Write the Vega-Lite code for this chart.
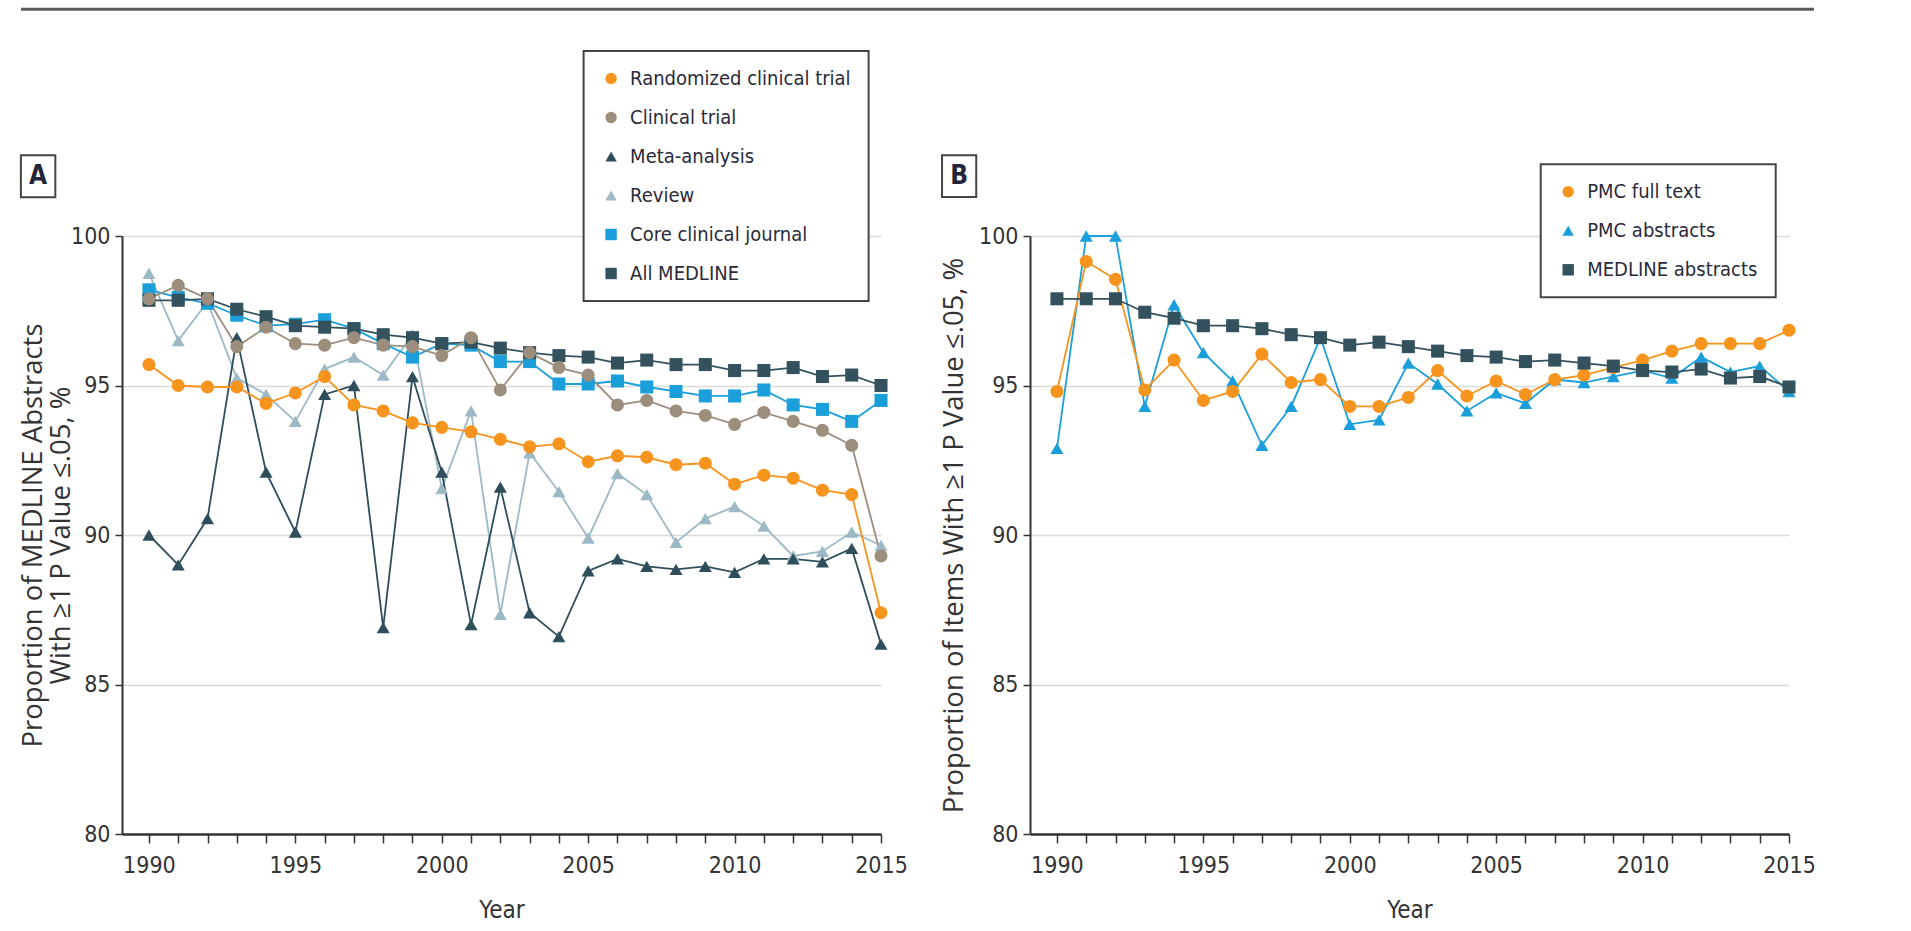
{
  "$schema": "https://vega.github.io/schema/vega-lite/v6.json",
  "background": "white",
  "padding": {"left": 16, "top": 7, "right": 5, "bottom": 5},
  "spacing": 149,
  "bounds": "flush",
  "datasets": {
    "a": [
      {"year": 1990, "series": "Review", "value": 98.75},
      {"year": 1991, "series": "Review", "value": 96.5},
      {"year": 1992, "series": "Review", "value": 97.8},
      {"year": 1993, "series": "Review", "value": 95.25},
      {"year": 1994, "series": "Review", "value": 94.7},
      {"year": 1995, "series": "Review", "value": 93.8},
      {"year": 1996, "series": "Review", "value": 95.55},
      {"year": 1997, "series": "Review", "value": 95.95},
      {"year": 1998, "series": "Review", "value": 95.35},
      {"year": 1999, "series": "Review", "value": 96.7},
      {"year": 2000, "series": "Review", "value": 91.55},
      {"year": 2001, "series": "Review", "value": 94.15},
      {"year": 2002, "series": "Review", "value": 87.35},
      {"year": 2003, "series": "Review", "value": 92.75},
      {"year": 2004, "series": "Review", "value": 91.45},
      {"year": 2005, "series": "Review", "value": 89.9},
      {"year": 2006, "series": "Review", "value": 92.05},
      {"year": 2007, "series": "Review", "value": 91.35},
      {"year": 2008, "series": "Review", "value": 89.75},
      {"year": 2009, "series": "Review", "value": 90.55},
      {"year": 2010, "series": "Review", "value": 90.95},
      {"year": 2011, "series": "Review", "value": 90.3},
      {"year": 2012, "series": "Review", "value": 89.3},
      {"year": 2013, "series": "Review", "value": 89.45},
      {"year": 2014, "series": "Review", "value": 90.1},
      {"year": 2015, "series": "Review", "value": 89.65},
      {"year": 1990, "series": "Meta-analysis", "value": 90.0},
      {"year": 1991, "series": "Meta-analysis", "value": 89.0},
      {"year": 1992, "series": "Meta-analysis", "value": 90.55},
      {"year": 1993, "series": "Meta-analysis", "value": 96.6},
      {"year": 1994, "series": "Meta-analysis", "value": 92.1},
      {"year": 1995, "series": "Meta-analysis", "value": 90.1},
      {"year": 1996, "series": "Meta-analysis", "value": 94.7},
      {"year": 1997, "series": "Meta-analysis", "value": 95.0},
      {"year": 1998, "series": "Meta-analysis", "value": 86.9},
      {"year": 1999, "series": "Meta-analysis", "value": 95.3},
      {"year": 2000, "series": "Meta-analysis", "value": 92.1},
      {"year": 2001, "series": "Meta-analysis", "value": 87.0},
      {"year": 2002, "series": "Meta-analysis", "value": 91.6},
      {"year": 2003, "series": "Meta-analysis", "value": 87.4},
      {"year": 2004, "series": "Meta-analysis", "value": 86.6},
      {"year": 2005, "series": "Meta-analysis", "value": 88.8},
      {"year": 2006, "series": "Meta-analysis", "value": 89.2},
      {"year": 2007, "series": "Meta-analysis", "value": 88.95},
      {"year": 2008, "series": "Meta-analysis", "value": 88.85},
      {"year": 2009, "series": "Meta-analysis", "value": 88.95},
      {"year": 2010, "series": "Meta-analysis", "value": 88.75},
      {"year": 2011, "series": "Meta-analysis", "value": 89.2},
      {"year": 2012, "series": "Meta-analysis", "value": 89.2},
      {"year": 2013, "series": "Meta-analysis", "value": 89.1},
      {"year": 2014, "series": "Meta-analysis", "value": 89.55},
      {"year": 2015, "series": "Meta-analysis", "value": 86.35},
      {"year": 1990, "series": "Randomized clinical trial", "value": 95.7},
      {"year": 1991, "series": "Randomized clinical trial", "value": 95.0},
      {"year": 1992, "series": "Randomized clinical trial", "value": 94.95},
      {"year": 1993, "series": "Randomized clinical trial", "value": 94.95},
      {"year": 1994, "series": "Randomized clinical trial", "value": 94.4},
      {"year": 1995, "series": "Randomized clinical trial", "value": 94.75},
      {"year": 1996, "series": "Randomized clinical trial", "value": 95.3},
      {"year": 1997, "series": "Randomized clinical trial", "value": 94.35},
      {"year": 1998, "series": "Randomized clinical trial", "value": 94.15},
      {"year": 1999, "series": "Randomized clinical trial", "value": 93.75},
      {"year": 2000, "series": "Randomized clinical trial", "value": 93.6},
      {"year": 2001, "series": "Randomized clinical trial", "value": 93.45},
      {"year": 2002, "series": "Randomized clinical trial", "value": 93.2},
      {"year": 2003, "series": "Randomized clinical trial", "value": 92.95},
      {"year": 2004, "series": "Randomized clinical trial", "value": 93.05},
      {"year": 2005, "series": "Randomized clinical trial", "value": 92.45},
      {"year": 2006, "series": "Randomized clinical trial", "value": 92.65},
      {"year": 2007, "series": "Randomized clinical trial", "value": 92.6},
      {"year": 2008, "series": "Randomized clinical trial", "value": 92.35},
      {"year": 2009, "series": "Randomized clinical trial", "value": 92.4},
      {"year": 2010, "series": "Randomized clinical trial", "value": 91.7},
      {"year": 2011, "series": "Randomized clinical trial", "value": 92.0},
      {"year": 2012, "series": "Randomized clinical trial", "value": 91.9},
      {"year": 2013, "series": "Randomized clinical trial", "value": 91.5},
      {"year": 2014, "series": "Randomized clinical trial", "value": 91.35},
      {"year": 2015, "series": "Randomized clinical trial", "value": 87.4},
      {"year": 1990, "series": "Core clinical journal", "value": 98.2},
      {"year": 1991, "series": "Core clinical journal", "value": 97.95},
      {"year": 1992, "series": "Core clinical journal", "value": 97.75},
      {"year": 1993, "series": "Core clinical journal", "value": 97.35},
      {"year": 1994, "series": "Core clinical journal", "value": 97.0},
      {"year": 1995, "series": "Core clinical journal", "value": 97.05},
      {"year": 1996, "series": "Core clinical journal", "value": 97.2},
      {"year": 1997, "series": "Core clinical journal", "value": 96.9},
      {"year": 1998, "series": "Core clinical journal", "value": 96.4},
      {"year": 1999, "series": "Core clinical journal", "value": 95.95},
      {"year": 2000, "series": "Core clinical journal", "value": 96.4},
      {"year": 2001, "series": "Core clinical journal", "value": 96.35},
      {"year": 2002, "series": "Core clinical journal", "value": 95.8},
      {"year": 2003, "series": "Core clinical journal", "value": 95.8},
      {"year": 2004, "series": "Core clinical journal", "value": 95.05},
      {"year": 2005, "series": "Core clinical journal", "value": 95.05},
      {"year": 2006, "series": "Core clinical journal", "value": 95.15},
      {"year": 2007, "series": "Core clinical journal", "value": 94.95},
      {"year": 2008, "series": "Core clinical journal", "value": 94.8},
      {"year": 2009, "series": "Core clinical journal", "value": 94.65},
      {"year": 2010, "series": "Core clinical journal", "value": 94.65},
      {"year": 2011, "series": "Core clinical journal", "value": 94.85},
      {"year": 2012, "series": "Core clinical journal", "value": 94.35},
      {"year": 2013, "series": "Core clinical journal", "value": 94.2},
      {"year": 2014, "series": "Core clinical journal", "value": 93.8},
      {"year": 2015, "series": "Core clinical journal", "value": 94.5},
      {"year": 1990, "series": "All MEDLINE", "value": 97.85},
      {"year": 1991, "series": "All MEDLINE", "value": 97.85},
      {"year": 1992, "series": "All MEDLINE", "value": 97.9},
      {"year": 1993, "series": "All MEDLINE", "value": 97.55},
      {"year": 1994, "series": "All MEDLINE", "value": 97.3},
      {"year": 1995, "series": "All MEDLINE", "value": 97.0},
      {"year": 1996, "series": "All MEDLINE", "value": 96.95},
      {"year": 1997, "series": "All MEDLINE", "value": 96.9},
      {"year": 1998, "series": "All MEDLINE", "value": 96.7},
      {"year": 1999, "series": "All MEDLINE", "value": 96.6},
      {"year": 2000, "series": "All MEDLINE", "value": 96.4},
      {"year": 2001, "series": "All MEDLINE", "value": 96.45},
      {"year": 2002, "series": "All MEDLINE", "value": 96.25},
      {"year": 2003, "series": "All MEDLINE", "value": 96.1},
      {"year": 2004, "series": "All MEDLINE", "value": 96.0},
      {"year": 2005, "series": "All MEDLINE", "value": 95.95},
      {"year": 2006, "series": "All MEDLINE", "value": 95.75},
      {"year": 2007, "series": "All MEDLINE", "value": 95.85},
      {"year": 2008, "series": "All MEDLINE", "value": 95.7},
      {"year": 2009, "series": "All MEDLINE", "value": 95.7},
      {"year": 2010, "series": "All MEDLINE", "value": 95.5},
      {"year": 2011, "series": "All MEDLINE", "value": 95.5},
      {"year": 2012, "series": "All MEDLINE", "value": 95.6},
      {"year": 2013, "series": "All MEDLINE", "value": 95.3},
      {"year": 2014, "series": "All MEDLINE", "value": 95.35},
      {"year": 2015, "series": "All MEDLINE", "value": 95.0},
      {"year": 1990, "series": "Clinical trial", "value": 97.9},
      {"year": 1991, "series": "Clinical trial", "value": 98.35},
      {"year": 1992, "series": "Clinical trial", "value": 97.9},
      {"year": 1993, "series": "Clinical trial", "value": 96.3},
      {"year": 1994, "series": "Clinical trial", "value": 96.95},
      {"year": 1995, "series": "Clinical trial", "value": 96.4},
      {"year": 1996, "series": "Clinical trial", "value": 96.35},
      {"year": 1997, "series": "Clinical trial", "value": 96.6},
      {"year": 1998, "series": "Clinical trial", "value": 96.35},
      {"year": 1999, "series": "Clinical trial", "value": 96.3},
      {"year": 2000, "series": "Clinical trial", "value": 96.0},
      {"year": 2001, "series": "Clinical trial", "value": 96.6},
      {"year": 2002, "series": "Clinical trial", "value": 94.85},
      {"year": 2003, "series": "Clinical trial", "value": 96.1},
      {"year": 2004, "series": "Clinical trial", "value": 95.6},
      {"year": 2005, "series": "Clinical trial", "value": 95.35},
      {"year": 2006, "series": "Clinical trial", "value": 94.35},
      {"year": 2007, "series": "Clinical trial", "value": 94.5},
      {"year": 2008, "series": "Clinical trial", "value": 94.15},
      {"year": 2009, "series": "Clinical trial", "value": 94.0},
      {"year": 2010, "series": "Clinical trial", "value": 93.7},
      {"year": 2011, "series": "Clinical trial", "value": 94.1},
      {"year": 2012, "series": "Clinical trial", "value": 93.8},
      {"year": 2013, "series": "Clinical trial", "value": 93.5},
      {"year": 2014, "series": "Clinical trial", "value": 93.0},
      {"year": 2015, "series": "Clinical trial", "value": 89.3}
    ],
    "b": [
      {"year": 1990, "source": "PMC abstracts", "value": 92.9},
      {"year": 1991, "source": "PMC abstracts", "value": 100.0},
      {"year": 1992, "source": "PMC abstracts", "value": 100.0},
      {"year": 1993, "source": "PMC abstracts", "value": 94.3},
      {"year": 1994, "source": "PMC abstracts", "value": 97.7},
      {"year": 1995, "source": "PMC abstracts", "value": 96.1},
      {"year": 1996, "source": "PMC abstracts", "value": 95.15},
      {"year": 1997, "source": "PMC abstracts", "value": 93.0},
      {"year": 1998, "source": "PMC abstracts", "value": 94.3},
      {"year": 1999, "source": "PMC abstracts", "value": 96.6},
      {"year": 2000, "source": "PMC abstracts", "value": 93.7},
      {"year": 2001, "source": "PMC abstracts", "value": 93.85},
      {"year": 2002, "source": "PMC abstracts", "value": 95.75},
      {"year": 2003, "source": "PMC abstracts", "value": 95.05},
      {"year": 2004, "source": "PMC abstracts", "value": 94.15},
      {"year": 2005, "source": "PMC abstracts", "value": 94.75},
      {"year": 2006, "source": "PMC abstracts", "value": 94.4},
      {"year": 2007, "source": "PMC abstracts", "value": 95.2},
      {"year": 2008, "source": "PMC abstracts", "value": 95.1},
      {"year": 2009, "source": "PMC abstracts", "value": 95.3},
      {"year": 2010, "source": "PMC abstracts", "value": 95.5},
      {"year": 2011, "source": "PMC abstracts", "value": 95.25},
      {"year": 2012, "source": "PMC abstracts", "value": 95.95},
      {"year": 2013, "source": "PMC abstracts", "value": 95.45},
      {"year": 2014, "source": "PMC abstracts", "value": 95.65},
      {"year": 2015, "source": "PMC abstracts", "value": 94.8},
      {"year": 1990, "source": "PMC full text", "value": 94.8},
      {"year": 1991, "source": "PMC full text", "value": 99.15},
      {"year": 1992, "source": "PMC full text", "value": 98.55},
      {"year": 1993, "source": "PMC full text", "value": 94.85},
      {"year": 1994, "source": "PMC full text", "value": 95.85},
      {"year": 1995, "source": "PMC full text", "value": 94.5},
      {"year": 1996, "source": "PMC full text", "value": 94.8},
      {"year": 1997, "source": "PMC full text", "value": 96.05},
      {"year": 1998, "source": "PMC full text", "value": 95.1},
      {"year": 1999, "source": "PMC full text", "value": 95.2},
      {"year": 2000, "source": "PMC full text", "value": 94.3},
      {"year": 2001, "source": "PMC full text", "value": 94.3},
      {"year": 2002, "source": "PMC full text", "value": 94.6},
      {"year": 2003, "source": "PMC full text", "value": 95.5},
      {"year": 2004, "source": "PMC full text", "value": 94.65},
      {"year": 2005, "source": "PMC full text", "value": 95.15},
      {"year": 2006, "source": "PMC full text", "value": 94.7},
      {"year": 2007, "source": "PMC full text", "value": 95.2},
      {"year": 2008, "source": "PMC full text", "value": 95.35},
      {"year": 2009, "source": "PMC full text", "value": 95.6},
      {"year": 2010, "source": "PMC full text", "value": 95.85},
      {"year": 2011, "source": "PMC full text", "value": 96.15},
      {"year": 2012, "source": "PMC full text", "value": 96.4},
      {"year": 2013, "source": "PMC full text", "value": 96.4},
      {"year": 2014, "source": "PMC full text", "value": 96.4},
      {"year": 2015, "source": "PMC full text", "value": 96.85},
      {"year": 1990, "source": "MEDLINE abstracts", "value": 97.9},
      {"year": 1991, "source": "MEDLINE abstracts", "value": 97.9},
      {"year": 1992, "source": "MEDLINE abstracts", "value": 97.9},
      {"year": 1993, "source": "MEDLINE abstracts", "value": 97.45},
      {"year": 1994, "source": "MEDLINE abstracts", "value": 97.25},
      {"year": 1995, "source": "MEDLINE abstracts", "value": 97.0},
      {"year": 1996, "source": "MEDLINE abstracts", "value": 97.0},
      {"year": 1997, "source": "MEDLINE abstracts", "value": 96.9},
      {"year": 1998, "source": "MEDLINE abstracts", "value": 96.7},
      {"year": 1999, "source": "MEDLINE abstracts", "value": 96.6},
      {"year": 2000, "source": "MEDLINE abstracts", "value": 96.35},
      {"year": 2001, "source": "MEDLINE abstracts", "value": 96.45},
      {"year": 2002, "source": "MEDLINE abstracts", "value": 96.3},
      {"year": 2003, "source": "MEDLINE abstracts", "value": 96.15},
      {"year": 2004, "source": "MEDLINE abstracts", "value": 96.0},
      {"year": 2005, "source": "MEDLINE abstracts", "value": 95.95},
      {"year": 2006, "source": "MEDLINE abstracts", "value": 95.8},
      {"year": 2007, "source": "MEDLINE abstracts", "value": 95.85},
      {"year": 2008, "source": "MEDLINE abstracts", "value": 95.75},
      {"year": 2009, "source": "MEDLINE abstracts", "value": 95.65},
      {"year": 2010, "source": "MEDLINE abstracts", "value": 95.5},
      {"year": 2011, "source": "MEDLINE abstracts", "value": 95.45},
      {"year": 2012, "source": "MEDLINE abstracts", "value": 95.55},
      {"year": 2013, "source": "MEDLINE abstracts", "value": 95.25},
      {"year": 2014, "source": "MEDLINE abstracts", "value": 95.3},
      {"year": 2015, "source": "MEDLINE abstracts", "value": 94.95}
    ]
  },
  "hconcat": [
    {
      "width": 759,
      "height": 598,
      "layer": [
        {
          "data": {"name": "a"},
          "mark": {"type": "line", "strokeWidth": 1.8},
          "encoding": {
            "x": {"field": "year", "type": "quantitative", "scale": {"domain": [1989.08, 2015], "nice": false, "zero": false},
              "axis": {"title": "Year", "values": [1990,1991,1992,1993,1994,1995,1996,1997,1998,1999,2000,2001,2002,2003,2004,2005,2006,2007,2008,2009,2010,2011,2012,2013,2014,2015], "format": "d", "labelExpr": "datum.value % 5 === 0 ? datum.label : ''", "labelOverlap": false, "labelFlush": false, "grid": false}},
            "y": {"field": "value", "type": "quantitative", "scale": {"domain": [80, 100], "nice": false, "zero": false},
              "axis": {"title": ["Proportion of MEDLINE Abstracts", "With ≥1 P Value ≤.05, %"], "values": [80, 85, 90, 95, 100], "grid": true, "titlePadding": -5, "titleLineHeight": 28}},
            "stroke": {"field": "series", "type": "nominal",
              "scale": {"domain": ["All MEDLINE", "Core clinical journal", "Review", "Meta-analysis", "Clinical trial", "Randomized clinical trial"], "range": ["#34525E", "#1A9FDB", "#9DB9C6", "#2F4E5B", "#9C8E7D", "#F7941D"]},
              "legend": null}
          }
        },
        {
          "data": {"name": "a"},
          "mark": {"type": "point", "filled": true, "opacity": 1},
          "encoding": {
            "x": {"field": "year", "type": "quantitative", "scale": {"domain": [1989.08, 2015], "nice": false, "zero": false},
              "axis": {"title": "Year", "values": [1990,1991,1992,1993,1994,1995,1996,1997,1998,1999,2000,2001,2002,2003,2004,2005,2006,2007,2008,2009,2010,2011,2012,2013,2014,2015], "format": "d", "labelExpr": "datum.value % 5 === 0 ? datum.label : ''", "labelOverlap": false, "labelFlush": false, "grid": false}},
            "y": {"field": "value", "type": "quantitative", "scale": {"domain": [80, 100], "nice": false, "zero": false},
              "axis": {"title": ["Proportion of MEDLINE Abstracts", "With ≥1 P Value ≤.05, %"], "values": [80, 85, 90, 95, 100], "grid": true, "titlePadding": -5, "titleLineHeight": 28}},
            "color": {"field": "series", "type": "nominal",
              "scale": {"domain": ["Randomized clinical trial", "Clinical trial", "Meta-analysis", "Review", "Core clinical journal", "All MEDLINE"], "range": ["#F7941D", "#9C8E7D", "#2F4E5B", "#9DB9C6", "#1A9FDB", "#34525E"]},
              "legend": {"title": null, "orient": "none", "legendX": 461.6, "legendY": -185}},
            "shape": {"field": "series", "type": "nominal",
              "scale": {"domain": ["Randomized clinical trial", "Clinical trial", "Meta-analysis", "Review", "Core clinical journal", "All MEDLINE"], "range": ["circle", "circle", "triangle-up", "triangle-up", "square", "square"]},
              "legend": {"title": null, "orient": "none", "legendX": 461.6, "legendY": -185}},
            "size": {"field": "series", "type": "nominal",
              "scale": {"domain": ["All MEDLINE", "Core clinical journal", "Review", "Meta-analysis", "Clinical trial", "Randomized clinical trial"], "range": [170, 170, 170, 170, 100, 100]},
              "legend": null}
          }
        },
        {
          "data": {"values": [{}]},
          "mark": {"type": "rule", "strokeWidth": 3, "color": "#5c5c5c", "strokeCap": "butt"},
          "encoding": {
            "x": {"datum": 1985.63, "type": "quantitative", "scale": {"domain": [1989.08, 2015], "nice": false, "zero": false},
              "axis": {"title": "Year", "values": [1990,1991,1992,1993,1994,1995,1996,1997,1998,1999,2000,2001,2002,2003,2004,2005,2006,2007,2008,2009,2010,2011,2012,2013,2014,2015], "format": "d", "labelExpr": "datum.value % 5 === 0 ? datum.label : ''", "labelOverlap": false, "labelFlush": false, "grid": false}},
            "x2": {"datum": 2046.86},
            "y": {"datum": 107.58, "type": "quantitative", "scale": {"domain": [80, 100], "nice": false, "zero": false},
              "axis": {"title": ["Proportion of MEDLINE Abstracts", "With ≥1 P Value ≤.05, %"], "values": [80, 85, 90, 95, 100], "grid": true, "titlePadding": -5, "titleLineHeight": 28}}
          }
        },
        {
          "data": {"values": [{}]},
          "mark": {"type": "point", "shape": "M-0.82,-1H0.82V1H-0.82Z", "size": 1764, "filled": false, "stroke": "#444444", "strokeWidth": 2, "opacity": 1},
          "encoding": {
            "x": {"datum": 1986.215, "type": "quantitative", "scale": {"domain": [1989.08, 2015], "nice": false, "zero": false},
              "axis": {"title": "Year", "values": [1990,1991,1992,1993,1994,1995,1996,1997,1998,1999,2000,2001,2002,2003,2004,2005,2006,2007,2008,2009,2010,2011,2012,2013,2014,2015], "format": "d", "labelExpr": "datum.value % 5 === 0 ? datum.label : ''", "labelOverlap": false, "labelFlush": false, "grid": false}},
            "y": {"datum": 102.0, "type": "quantitative", "scale": {"domain": [80, 100], "nice": false, "zero": false},
              "axis": {"title": ["Proportion of MEDLINE Abstracts", "With ≥1 P Value ≤.05, %"], "values": [80, 85, 90, 95, 100], "grid": true, "titlePadding": -5, "titleLineHeight": 28}}
          }
        },
        {
          "data": {"values": [{}]},
          "mark": {"type": "text", "text": "A", "font": "DejaVu Sans Condensed, Roboto, sans-serif", "fontSize": 26, "fontWeight": "bold", "color": "#22263a", "align": "center", "baseline": "middle"},
          "encoding": {
            "x": {"datum": 1986.215, "type": "quantitative", "scale": {"domain": [1989.08, 2015], "nice": false, "zero": false},
              "axis": {"title": "Year", "values": [1990,1991,1992,1993,1994,1995,1996,1997,1998,1999,2000,2001,2002,2003,2004,2005,2006,2007,2008,2009,2010,2011,2012,2013,2014,2015], "format": "d", "labelExpr": "datum.value % 5 === 0 ? datum.label : ''", "labelOverlap": false, "labelFlush": false, "grid": false}},
            "y": {"datum": 102.0, "type": "quantitative", "scale": {"domain": [80, 100], "nice": false, "zero": false},
              "axis": {"title": ["Proportion of MEDLINE Abstracts", "With ≥1 P Value ≤.05, %"], "values": [80, 85, 90, 95, 100], "grid": true, "titlePadding": -5, "titleLineHeight": 28}}
          }
        }
      ]
    },
    {
      "width": 759,
      "height": 598,
      "layer": [
        {
          "data": {"name": "b"},
          "mark": {"type": "line", "strokeWidth": 1.8},
          "encoding": {
            "x": {"field": "year", "type": "quantitative", "scale": {"domain": [1989.08, 2015], "nice": false, "zero": false},
              "axis": {"title": "Year", "values": [1990,1991,1992,1993,1994,1995,1996,1997,1998,1999,2000,2001,2002,2003,2004,2005,2006,2007,2008,2009,2010,2011,2012,2013,2014,2015], "format": "d", "labelExpr": "datum.value % 5 === 0 ? datum.label : ''", "labelOverlap": false, "labelFlush": false, "grid": false}},
            "y": {"field": "value", "type": "quantitative", "scale": {"domain": [80, 100], "nice": false, "zero": false},
              "axis": {"title": "Proportion of Items With ≥1 P Value ≤.05, %", "values": [80, 85, 90, 95, 100], "grid": true, "titlePadding": 10}},
            "stroke": {"field": "source", "type": "nominal",
              "scale": {"domain": ["MEDLINE abstracts", "PMC abstracts", "PMC full text"], "range": ["#34525E", "#1A9FDB", "#F7941D"]},
              "legend": null}
          }
        },
        {
          "data": {"name": "b"},
          "mark": {"type": "point", "filled": true, "opacity": 1},
          "encoding": {
            "x": {"field": "year", "type": "quantitative", "scale": {"domain": [1989.08, 2015], "nice": false, "zero": false},
              "axis": {"title": "Year", "values": [1990,1991,1992,1993,1994,1995,1996,1997,1998,1999,2000,2001,2002,2003,2004,2005,2006,2007,2008,2009,2010,2011,2012,2013,2014,2015], "format": "d", "labelExpr": "datum.value % 5 === 0 ? datum.label : ''", "labelOverlap": false, "labelFlush": false, "grid": false}},
            "y": {"field": "value", "type": "quantitative", "scale": {"domain": [80, 100], "nice": false, "zero": false},
              "axis": {"title": "Proportion of Items With ≥1 P Value ≤.05, %", "values": [80, 85, 90, 95, 100], "grid": true, "titlePadding": 10}},
            "color": {"field": "source", "type": "nominal",
              "scale": {"domain": ["PMC full text", "PMC abstracts", "MEDLINE abstracts"], "range": ["#F7941D", "#1A9FDB", "#34525E"]},
              "legend": {"title": null, "orient": "none", "legendX": 510.7, "legendY": -71.7}},
            "shape": {"field": "source", "type": "nominal",
              "scale": {"domain": ["PMC full text", "PMC abstracts", "MEDLINE abstracts"], "range": ["circle", "triangle-up", "square"]},
              "legend": {"title": null, "orient": "none", "legendX": 510.7, "legendY": -71.7}},
            "size": {"field": "source", "type": "nominal",
              "scale": {"domain": ["MEDLINE abstracts", "PMC abstracts", "PMC full text"], "range": [170, 170, 100]},
              "legend": null}
          }
        },
        {
          "data": {"values": [{}]},
          "mark": {"type": "point", "shape": "M-0.82,-1H0.82V1H-0.82Z", "size": 1740, "filled": false, "stroke": "#444444", "strokeWidth": 2, "opacity": 1},
          "encoding": {
            "x": {"datum": 1986.66, "type": "quantitative", "scale": {"domain": [1989.08, 2015], "nice": false, "zero": false},
              "axis": {"title": "Year", "values": [1990,1991,1992,1993,1994,1995,1996,1997,1998,1999,2000,2001,2002,2003,2004,2005,2006,2007,2008,2009,2010,2011,2012,2013,2014,2015], "format": "d", "labelExpr": "datum.value % 5 === 0 ? datum.label : ''", "labelOverlap": false, "labelFlush": false, "grid": false}},
            "y": {"datum": 102.0, "type": "quantitative", "scale": {"domain": [80, 100], "nice": false, "zero": false},
              "axis": {"title": "Proportion of Items With ≥1 P Value ≤.05, %", "values": [80, 85, 90, 95, 100], "grid": true, "titlePadding": 10}}
          }
        },
        {
          "data": {"values": [{}]},
          "mark": {"type": "text", "text": "B", "font": "DejaVu Sans Condensed, Roboto, sans-serif", "fontSize": 26, "fontWeight": "bold", "color": "#22263a", "align": "center", "baseline": "middle"},
          "encoding": {
            "x": {"datum": 1986.66, "type": "quantitative", "scale": {"domain": [1989.08, 2015], "nice": false, "zero": false},
              "axis": {"title": "Year", "values": [1990,1991,1992,1993,1994,1995,1996,1997,1998,1999,2000,2001,2002,2003,2004,2005,2006,2007,2008,2009,2010,2011,2012,2013,2014,2015], "format": "d", "labelExpr": "datum.value % 5 === 0 ? datum.label : ''", "labelOverlap": false, "labelFlush": false, "grid": false}},
            "y": {"datum": 102.0, "type": "quantitative", "scale": {"domain": [80, 100], "nice": false, "zero": false},
              "axis": {"title": "Proportion of Items With ≥1 P Value ≤.05, %", "values": [80, 85, 90, 95, 100], "grid": true, "titlePadding": 10}}
          }
        }
      ]
    }
  ],
  "resolve": {"scale": {"color": "independent", "shape": "independent", "stroke": "independent", "size": "independent", "x": "independent", "y": "independent"}},
  "config": {
    "view": {"stroke": null},
    "axis": {"domainColor": "#333333", "tickColor": "#333333", "labelColor": "#333333", "titleColor": "#333333", "labelFont": "DejaVu Sans Condensed, Roboto, sans-serif", "labelFontSize": 23, "labelOverlap": false, "gridColor": "#dadada", "gridWidth": 1.5},
    "axisX": {"tickSize": 9, "tickWidth": 1.5, "labelPadding": 11, "domainWidth": 2.5, "titlePadding": 21, "titleFont": "DejaVu Sans Condensed, Roboto, sans-serif", "titleFontSize": 24, "titleFontWeight": "normal"},
    "axisY": {"tickSize": 7, "tickWidth": 1.5, "labelPadding": 5, "domainWidth": 2, "titleFont": "Open Sans", "titleFontSize": 27.5, "titleFontWeight": "normal"},
    "legend": {"strokeColor": "#444444", "strokeWidth": 2, "padding": 17.5, "labelFont": "DejaVu Sans Condensed, Roboto, sans-serif", "labelFontSize": 20, "labelColor": "#2a2a3a", "labelLimit": 500, "symbolSize": 130, "symbolStrokeWidth": 0, "rowPadding": 19, "labelOffset": 9, "fillColor": "white"}
  }
}
